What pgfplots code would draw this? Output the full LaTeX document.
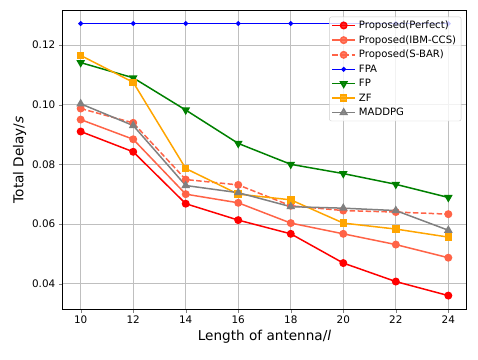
\documentclass[border=0pt]{standalone}
\usepackage{pgfplots}
\pgfplotsset{compat=1.18}
\usepackage{fontspec}
\setmainfont{DejaVu Sans}
\definecolor{tomato}{HTML}{FF6347}
\definecolor{mplgreen}{HTML}{008000}
\definecolor{mplorange}{HTML}{FFA500}
\definecolor{mplgray}{HTML}{808080}
\begin{document}
\begin{tikzpicture}[x=1pt,y=1pt]
\path[use as bounding box] (-62.3,-50) rectangle (415.7,309);
\begin{axis}[
  at={(0,0)}, anchor=south west,
  scale only axis, width=404.4pt, height=298.3pt,
  xmin=9.3, xmax=24.7, ymin=0.0315, ymax=0.1315,
  xtick={10,12,...,24},
  ytick={0.04,0.06,0.08,0.10,0.12},
  yticklabel style={/pgf/number format/.cd,fixed,fixed zerofill,precision=2},
  /pgf/number format/assume math mode=true,
  scaled y ticks=false,
  tick label style={font=\fontsize{10.4}{12}\selectfont},
  tick align=outside, tick pos=left,
  major tick length=3.5pt,
  grid=major, grid style={color=black!25, line width=0.8pt},
  axis line style={line width=0.8pt},
  xlabel={Length of antenna/\textit{l}},
  ylabel={Total Delay/\textit{s}},
  label style={font=\fontsize{13.6}{16}\selectfont},
  xlabel style={yshift=1pt},
  ylabel style={yshift=-1pt},
  legend cell align=left,
  legend style={at={(1,1)}, anchor=north east, xshift=-5.4pt, yshift=-6pt,
    font=\fontsize{10.1}{12}\selectfont,
    draw=black!20, rounded corners=2pt, fill=white, fill opacity=0.8, text opacity=1,
    row sep=1.5pt, inner sep=2pt,
    nodes={inner xsep=3pt}},
  legend image code/.code={\draw[#1] (0pt,0pt) -- (11.5pt,0pt) plot coordinates {(11.5pt,0pt)} -- (23pt,0pt);},
  every axis plot/.append style={line width=1.5pt, mark size=3.2pt},
]
\addplot[red, mark=*, mark options={solid}] coordinates {
(10,0.0910) (12,0.0842) (14,0.0668) (16,0.0613) (18,0.0567) (20,0.0469) (22,0.0407) (24,0.0360)};
\addlegendentry{Proposed(Perfect)}
\addplot[tomato, mark=*, mark options={solid}] coordinates {
(10,0.0950) (12,0.0884) (14,0.0700) (16,0.0671) (18,0.0603) (20,0.0567) (22,0.0531) (24,0.0487)};
\addlegendentry{Proposed(IBM-CCS)}
\addplot[tomato, dashed, dash pattern=on 5.5pt off 2.4pt, mark=*, mark options={solid}] coordinates {
(10,0.0987) (12,0.0939) (14,0.0749) (16,0.0731) (18,0.0661) (20,0.0645) (22,0.0640) (24,0.0633)};
\addlegendentry{Proposed(S-BAR)}
\addplot[blue, mark=*, mark size=1.6pt, mark options={solid}] coordinates {
(10,0.1272) (12,0.1272) (14,0.1272) (16,0.1272) (18,0.1272) (20,0.1272) (22,0.1272) (24,0.1272)};
\addlegendentry{FPA}
\addplot[mplgreen, mark=triangle*, mark size=3.6pt, mark options={solid, rotate=180}] coordinates {
(10,0.1141) (12,0.1090) (14,0.0982) (16,0.0870) (18,0.0800) (20,0.0769) (22,0.0733) (24,0.0689)};
\addlegendentry{FP}
\addplot[mplorange, mark=square*, mark size=3.0pt, mark options={solid}] coordinates {
(10,0.1165) (12,0.1075) (14,0.0786) (16,0.0700) (18,0.0681) (20,0.0603) (22,0.0583) (24,0.0556)};
\addlegendentry{ZF}
\addplot[mplgray, mark=triangle*, mark size=3.6pt, mark options={solid}] coordinates {
(10,0.1003) (12,0.0930) (14,0.0729) (16,0.0705) (18,0.0658) (20,0.0653) (22,0.0645) (24,0.0579)};
\addlegendentry{MADDPG}
\end{axis}
\end{tikzpicture}
\end{document}
